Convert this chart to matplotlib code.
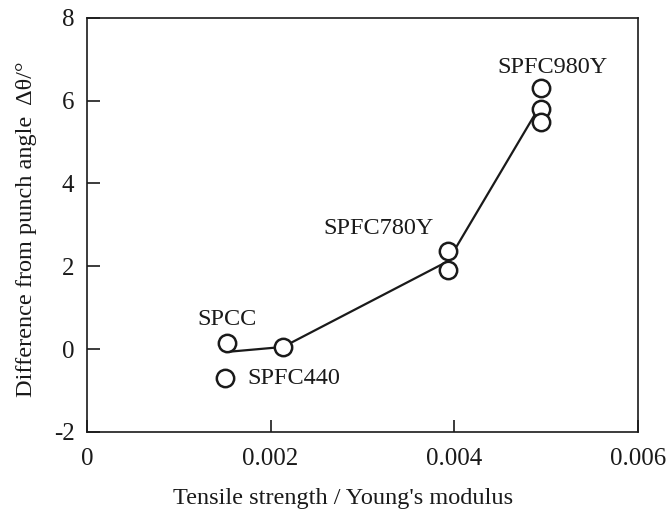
import matplotlib
matplotlib.use("Agg")
import matplotlib.pyplot as plt

# measured points (tensile strength / Young's modulus, angle difference)
pts_x = [0.001525, 0.0015, 0.002135, 0.00393, 0.00393, 0.00494, 0.00494, 0.00494]
pts_y = [0.15, -0.70, 0.05, 2.37, 1.91, 6.30, 5.80, 5.48]

# trend line
line_x = [0.001525, 0.002135, 0.00393, 0.00494]
line_y = [-0.07, 0.05, 2.12, 5.90]

# labels: text, x, y
labels = [("SPCC", 0.00152, 0.72),
          ("SPFC440", 0.00175, -0.72),
          ("SPFC780Y", 0.00378, 2.92),
          ("SPFC980Y", 0.00507, 6.81)]

xticks = [0, 0.002, 0.004, 0.006]
xtick_labels = ["0", "0.002", "0.004", "0.006"]
yticks = [-2, 0, 2, 4, 6, 8]

plt.rcParams['font.family'] = ['Liberation Serif', 'DejaVu Serif']
plt.rcParams['axes.unicode_minus'] = False
ink = '#1a1a1a'

fig = plt.figure(figsize=(6.67, 5.11), dpi=100)
ax = fig.add_axes([0.1304, 0.155, 0.826, 0.810])

ax.plot(line_x, line_y, color=ink, lw=1.6, zorder=2)
ax.plot(pts_x, pts_y, 'o', ms=12.5, mfc='white', mec=ink, mew=1.8, zorder=3)

ha = {"SPCC": "center", "SPFC440": "left", "SPFC780Y": "right", "SPFC980Y": "center"}
for txt, x, y in labels:
    ax.text(x, y, txt, fontsize=17.5, color=ink, ha=ha[txt], va='center')

ax.set_xlim(0, 0.006)
ax.set_ylim(-2, 8)
ax.set_xticks(xticks)
ax.set_xticklabels(xtick_labels)
ax.set_yticks(yticks)
ax.tick_params(direction='in', length=9, width=1.2, labelsize=18, colors=ink)
ax.tick_params(axis='x', pad=12)
ax.tick_params(axis='y', pad=9)
for s in ax.spines.values():
    s.set_linewidth(1.2)
    s.set_color(ink)

ax.set_xlabel("Tensile strength / Young's modulus", fontsize=17.5, color=ink)
ax.xaxis.set_label_coords(0.465, -0.135)
ax.set_ylabel("Difference from punch angle  \u0394\u03b8/\u00b0", fontsize=17.5, color=ink)
ax.yaxis.set_label_coords(-0.09, 0.49)

fig.savefig("out.png", dpi=100)
